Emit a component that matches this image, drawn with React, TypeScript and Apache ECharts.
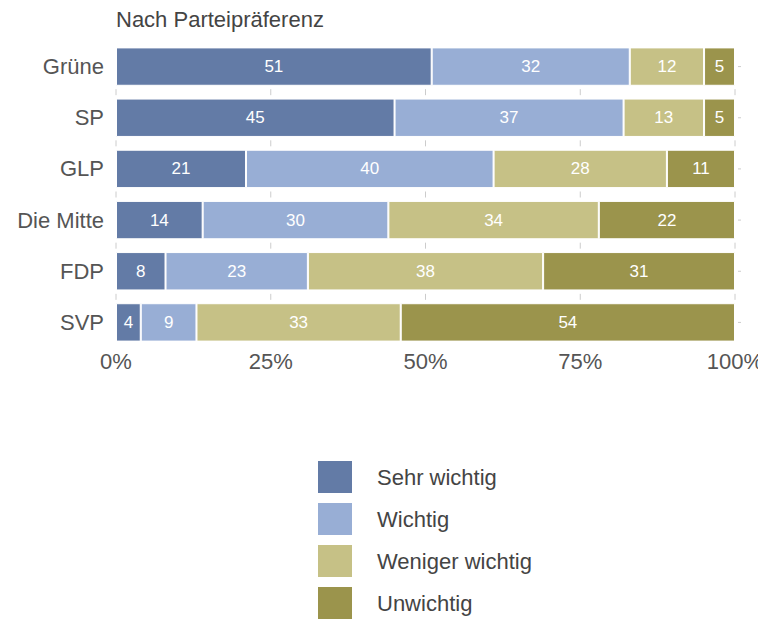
import React, { useEffect, useRef } from "react";
import * as echarts from "echarts";

const categories = ["Grüne", "SP", "GLP", "Die Mitte", "FDP", "SVP"];
const seriesNames = ["Sehr wichtig", "Wichtig", "Weniger wichtig", "Unwichtig"];
const sehrWichtig = [51, 45, 21, 14, 8, 4];
const wichtig = [32, 37, 40, 30, 23, 9];
const wenigerWichtig = [12, 13, 28, 34, 38, 33];
const unwichtig = [5, 5, 11, 22, 31, 54];
const xTicks = [0, 25, 50, 75, 100];
const colors = ["#637ba6", "#98aed5", "#c6c186", "#9b944c"];

export default function App() {
  const ref = useRef<HTMLDivElement>(null);
  useEffect(() => {
    const chart = echarts.init(ref.current!, null, { renderer: "svg" });
    const data = [sehrWichtig, wichtig, wenigerWichtig, unwichtig];
    const font = "Liberation Sans, Arial, sans-serif";
    const gridMarks: number[][] = [];
    for (let c = 0; c < categories.length - 1; c++) {
      for (const t of xTicks) gridMarks.push([t, c]);
    }
    const rightMarks = categories.map((_, i) => [100, i]);
    chart.setOption({
      animation: false,
      textStyle: { fontFamily: font },
      title: {
        text: "Nach Parteipräferenz",
        left: 108,
        top: 0,
        padding: 0,
        textStyle: { fontSize: 22, fontWeight: "normal", color: "#444", fontFamily: font },
      },
      legend: {
        orient: "vertical",
        left: 303,
        top: 446,
        padding: 5,
        height: 200,
        itemWidth: 36,
        itemHeight: 34,
        itemGap: 6,
        icon: "rect",
        data: seriesNames,
        textStyle: { fontSize: 22, color: "#444", padding: [0, 0, 0, 19], fontFamily: font },
      },
      grid: { left: 108, right: 31, top: 33, bottom: 273, containLabel: false, outerBoundsMode: "none" },
      xAxis: {
        type: "value",
        min: 0,
        max: 100,
        interval: 25,
        axisLine: { show: false },
        axisTick: { show: false },
        splitLine: { show: false },
        axisLabel: {
          formatter: (v: number) => (xTicks.includes(v) ? v + "%" : ""),
          fontSize: 22,
          color: "#555",
          margin: 2,
        },
      },
      yAxis: {
        type: "category",
        data: categories,
        inverse: true,
        axisLine: { show: false },
        axisTick: { show: false },
        axisLabel: { fontSize: 22, color: "#555", margin: 12 },
      },
      series: [
        ...seriesNames.map((name, i) => ({
          name,
          type: "bar",
          stack: "total",
          barCategoryGap: "25%",
          data: data[i],
          itemStyle: { color: colors[i], borderColor: "#fff", borderWidth: 1 },
          label: {
            show: true,
            position: "inside",
            color: "#fff",
            fontSize: 17,
            fontFamily: font,
          },
        })),
        {
          type: "custom",
          name: "gridmarks",
          silent: true,
          data: gridMarks,
          renderItem: (params: any, api: any) => {
            const p = api.coord([api.value(0), api.value(1)]);
            const band = api.size([0, 1])[1];
            const y = p[1] + band / 2;
            return {
              type: "line",
              shape: { x1: p[0], y1: y - 3, x2: p[0], y2: y + 3 },
              style: { stroke: "#ccc", lineWidth: 1 },
            };
          },
        },
        {
          type: "custom",
          name: "rightmarks",
          silent: true,
          data: rightMarks,
          renderItem: (params: any, api: any) => {
            const p = api.coord([api.value(0), api.value(1)]);
            return {
              type: "line",
              shape: { x1: p[0] + 3, y1: p[1], x2: p[0] + 6, y2: p[1] },
              style: { stroke: "#ccc", lineWidth: 1 },
            };
          },
        },
      ],
    });
    return () => chart.dispose();
  }, []);
  return <div ref={ref} style={{ width: 758, height: 613 }} />;
}
